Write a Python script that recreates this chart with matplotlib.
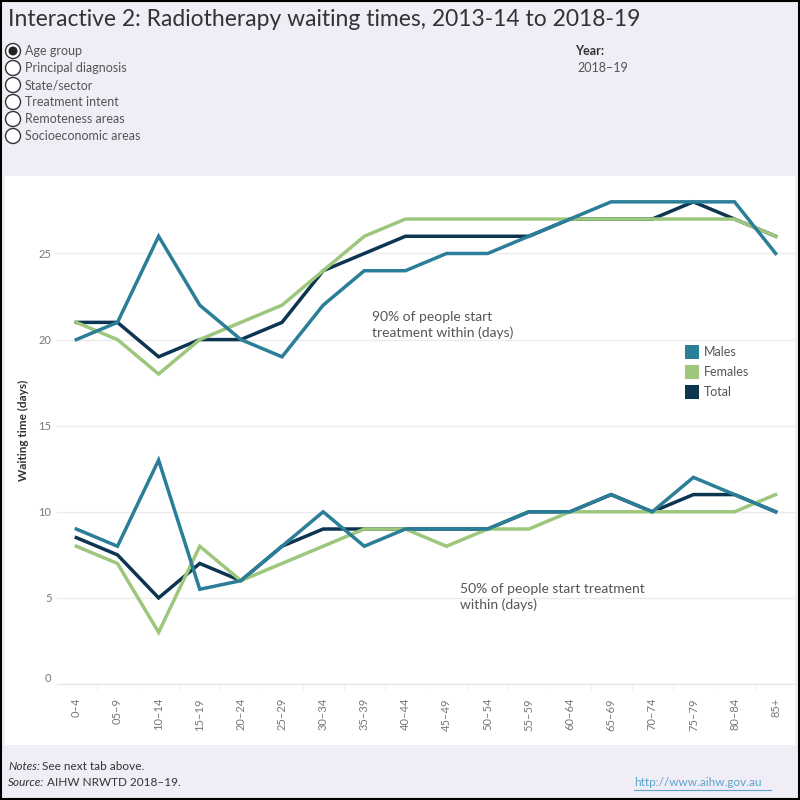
import numpy as np
import matplotlib.pyplot as plt
from matplotlib.patches import Rectangle, Circle

plt.rcParams['font.family'] = ['Lato', 'DejaVu Sans']

age_groups = ['0–4', '05–9', '10–14', '15–19', '20–24', '25–29', '30–34', '35–39',
              '40–44', '45–49', '50–54', '55–59', '60–64', '65–69', '70–74',
              '75–79', '80–84', '85+']

# 90th percentile waiting times (days)
males_90 = [20, 21, 26, 22, 20, 19, 22, 24, 24, 25, 25, 26, 27, 28, 28, 28, 28, 25]
females_90 = [21, 20, 18, 20, 21, 22, 24, 26, 27, 27, 27, 27, 27, 27, 27, 27, 27, 26]
total_90 = [21, 21, 19, 20, 20, 21, 24, 25, 26, 26, 26, 26, 27, 27, 27, 28, 27, 26]

# median waiting times (days)
males_50 = [9, 8, 13, 5.5, 6, 8, 10, 8, 9, 9, 9, 10, 10, 11, 10, 12, 11, 10]
females_50 = [8, 7, 3, 8, 6, 7, 8, 9, 9, 8, 9, 9, 10, 10, 10, 10, 10, 11]
total_50 = [8.5, 7.5, 5, 7, 6, 8, 9, 9, 9, 9, 9, 10, 10, 11, 10, 11, 11, 10]

radio_options = ['Age group', 'Principal diagnosis', 'State/sector',
                 'Treatment intent', 'Remoteness areas', 'Socioeconomic areas']

c_males = '#2b7e97'
c_females = '#9dc77c'
c_total = '#0b3550'
bg = '#f0edf6'
txt = '#555555'

W = H = 800


def px(x, y):
    return x / W, 1 - y / H


fig = plt.figure(figsize=(8, 8), dpi=100)
fig.patch.set_facecolor(bg)

# white chart panel
fig.patches.append(Rectangle(px(5, 745), 790 / W, 569 / H, transform=fig.transFigure,
                             facecolor='white', edgecolor='none', zorder=-10))
# outer border
fig.patches.append(Rectangle((0.001, 0.001), 0.998, 0.998, transform=fig.transFigure,
                             facecolor='none', edgecolor='black', lw=1.5, zorder=5))

fig.text(*px(8, 20), 'Interactive 2: Radiotherapy waiting times, 2013-14 to 2018-19',
         fontsize=16.5, color='#333333', va='center', ha='left')

# radio buttons
for i, opt in enumerate(radio_options):
    y = 51 + i * 17
    fig.patches.append(Circle(px(13, y), 7.5 / W, transform=fig.transFigure,
                              facecolor='white', edgecolor='#333333', lw=1))
    if i == 0:
        fig.patches.append(Circle(px(13, y), 4.5 / W, transform=fig.transFigure,
                                  facecolor='#222222', edgecolor='none'))
    fig.text(*px(25, y), opt, fontsize=9, color=txt, va='center', ha='left')

fig.text(*px(575, 51), 'Year:', fontsize=9, color='#333333', fontweight='bold',
         va='center', ha='left')
fig.text(*px(577, 68), '2018–19', fontsize=9, color=txt, va='center', ha='left')

# chart
ax = fig.add_axes([57 / W, 1 - 684 / H, 738 / W, 508 / H])
ax.set_facecolor('white')
x = np.arange(len(age_groups))
for series, col in [((total_90, total_50), c_total),
                    ((females_90, females_50), c_females),
                    ((males_90, males_50), c_males)]:
    for s in series:
        ax.plot(x, s, color=col, lw=2.5, solid_joinstyle='miter')

ax.set_xlim(-0.47, len(age_groups) - 0.53)
ax.set_ylim(0, 29.5)
ax.set_yticks([0, 5, 10, 15, 20, 25])
ax.set_xticks(x)
ax.set_xticklabels(age_groups, rotation=90, fontsize=8, color='#777777')
ax.tick_params(axis='y', labelsize=8, colors='#777777', length=0, pad=4)
ax.tick_params(axis='x', length=0, pad=10)
ax.set_xticks(x[:-1] + 0.5, minor=True)
ax.tick_params(axis='x', which='minor', length=4, color='#eeeeee', direction='out')
ax.get_yticklabels()[0].set_va('bottom')
ax.grid(axis='y', color='#ebebeb', lw=1)
ax.set_axisbelow(True)
for side in ['top', 'right', 'left']:
    ax.spines[side].set_visible(False)
ax.spines['bottom'].set_color('#e6e6e6')
ax.set_ylabel('Waiting time (days)', fontsize=8.5, color='#333333', fontweight='bold',
              labelpad=7)

ax.annotate('90% of people start\ntreatment within (days)', xy=px(372, 325),
            xycoords='figure fraction', fontsize=10, color=txt, va='center',
            ha='left', linespacing=1.35)
ax.annotate('50% of people start treatment\nwithin (days)', xy=px(460, 597),
            xycoords='figure fraction', fontsize=10, color=txt, va='center',
            ha='left', linespacing=1.35)

# legend
for i, (lab, col) in enumerate([('Males', c_males), ('Females', c_females),
                                ('Total', c_total)]):
    y = 352 + i * 20
    fig.patches.append(Rectangle(px(685, y + 7), 14 / W, 14 / H, transform=fig.transFigure,
                                 facecolor=col, edgecolor='none', zorder=3))
    fig.text(*px(704, y), lab, fontsize=9, color=txt, va='center', ha='left')

# footer
fig.text(*px(8, 766), 'Notes:', fontsize=8.5, style='italic', color='#333333',
         va='center', ha='left')
fig.text(*px(42, 766), 'See next tab above.', fontsize=8.5, color='#333333',
         va='center', ha='left')
fig.text(*px(8, 783), 'Source:', fontsize=8.5, style='italic', color='#333333',
         va='center', ha='left')
fig.text(*px(47, 783), 'AIHW NRWTD 2018–19.', fontsize=8.5, color='#333333',
         va='center', ha='left')
fig.text(*px(634, 783), 'http://www.aihw.gov.au', fontsize=8.5, color='#5ba3c9',
         va='center', ha='left')
fig.add_artist(plt.Line2D([634 / W, 771 / W], [1 - 790 / H, 1 - 790 / H],
                          color='#5ba3c9', lw=0.8, transform=fig.transFigure))

fig.savefig('out.png', dpi=100, facecolor=bg)
